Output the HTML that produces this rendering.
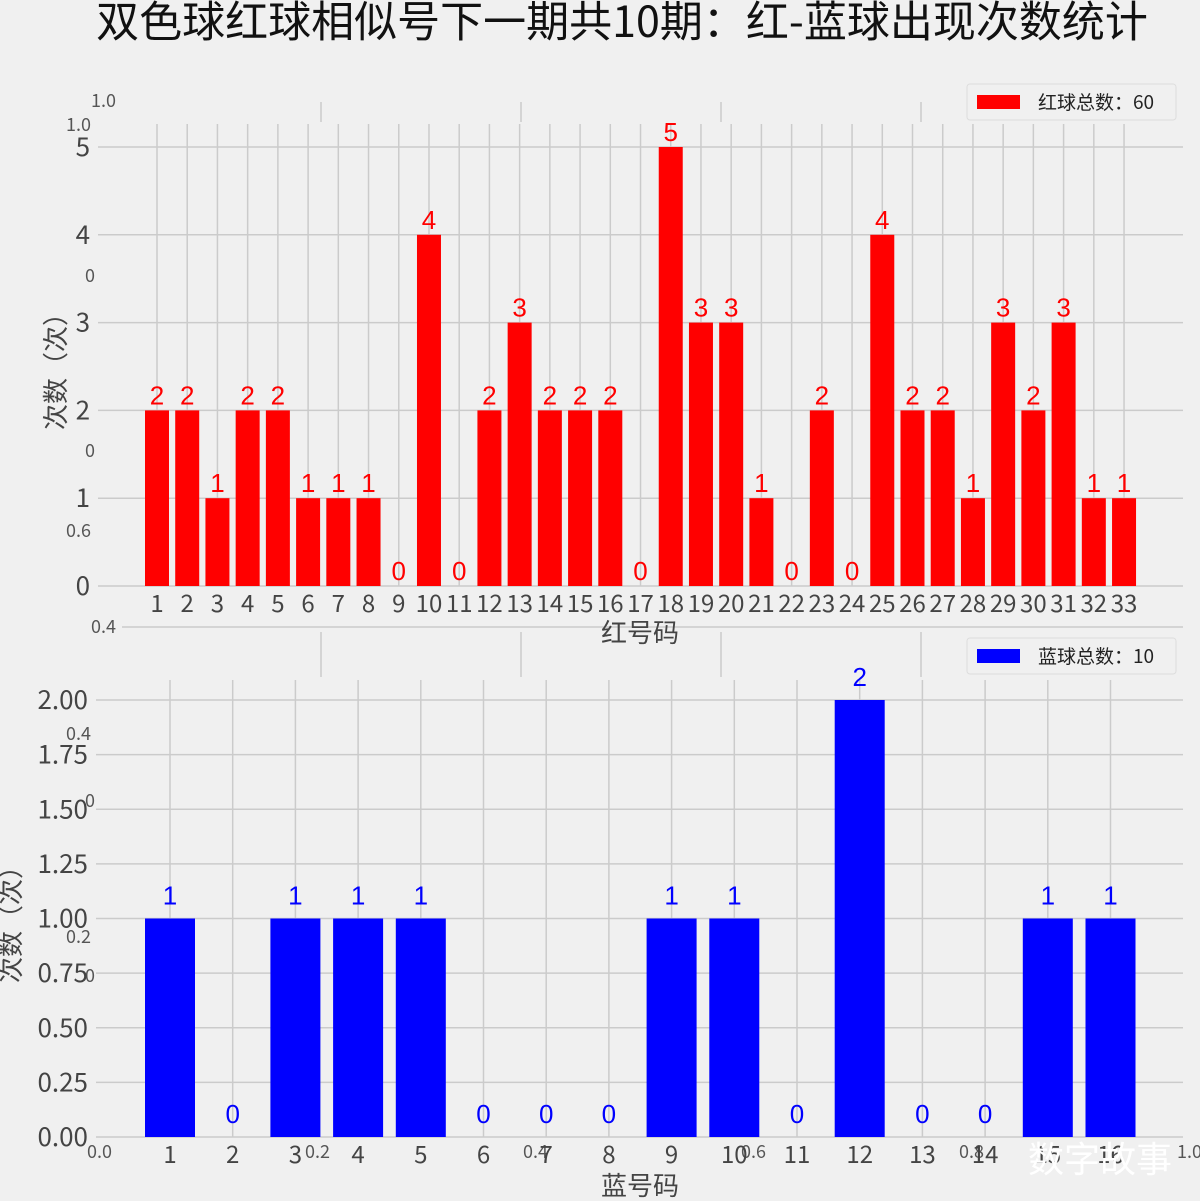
<!DOCTYPE html>
<html><head><meta charset="utf-8"><style>
body{margin:0;background:#f0f0f0;}
svg{display:block;font-family:"Liberation Sans","Noto Sans CJK SC",sans-serif;}
</style></head><body>
<svg id="c" width="1200" height="1201" viewBox="0 0 1200 1201" xmlns="http://www.w3.org/2000/svg">
<rect width="1200" height="1201" fill="#f0f0f0"/>
<text x="622" y="37" font-size="43" text-anchor="middle" fill="#111" font-family="Noto Sans CJK SC, sans-serif">双色球红球相似号下一期共10期：红-蓝球出现次数统计</text>
<g id="ghost"></g>
<g id="top"></g>
<g id="bot"></g>
<g>
<rect x="967" y="84" width="209" height="36" rx="3" fill="#f0f0f0" stroke="#ddd"/>
<rect x="977" y="95" width="43" height="14" fill="#ff0000"/>
<text x="1038" y="109" font-size="19" fill="#222" font-family="Noto Sans CJK SC, sans-serif">红球总数：60</text>
</g>
<g>
<rect x="967" y="638" width="209" height="36" rx="3" fill="#f0f0f0" stroke="#ddd"/>
<rect x="977" y="649" width="43" height="14" fill="#0000ff"/>
<text x="1038" y="663" font-size="19" fill="#222" font-family="Noto Sans CJK SC, sans-serif">蓝球总数：10</text>
</g>
<text x="1100" y="1172" font-size="36" text-anchor="middle" fill="#ffffff" font-family="Noto Sans CJK SC, sans-serif">数字故事</text>
</svg>
<script>
const redCategories = ["1","2","3","4","5","6","7","8","9","10","11","12","13","14","15","16","17","18","19","20","21","22","23","24","25","26","27","28","29","30","31","32","33"];
const redValues = [2,2,1,2,2,1,1,1,0,4,0,2,3,2,2,2,0,5,3,3,1,0,2,0,4,2,2,1,3,2,3,1,1];
const redTicks = [0,1,2,3,4,5];
const blueCategories = ["1","2","3","4","5","6","7","8","9","10","11","12","13","14","15","16"];
const blueValues = [1,0,1,1,1,0,0,0,1,1,0,2,0,0,1,1];
const blueTicks = [0,0.25,0.5,0.75,1,1.25,1.5,1.75,2];
const blueTickLabels = ["0.00","0.25","0.50","0.75","1.00","1.25","1.50","1.75","2.00"];

const NS="http://www.w3.org/2000/svg";
function mk(parent,tag,attrs,text){const e=document.createElementNS(NS,tag);for(const k in attrs)e.setAttribute(k,attrs[k]);if(text!==undefined)e.textContent=text;parent.appendChild(e);return e;}

const g=document.getElementById('ghost');
[321,521,721,921].forEach(x=>{
  let l=mk(g,'line',{x1:x,x2:x,y1:102,y2:122,stroke:'#cbcbcb','stroke-width':1.5});
  
  
  l=mk(g,'line',{x1:x,x2:x,y1:632,y2:677,stroke:'#cbcbcb','stroke-width':1.5});
  
  
});
mk(g,'line',{x1:122,x2:1183,y1:627,y2:627,stroke:'#cbcbcb','stroke-width':1.5});
[["1.0",116,107],["1.0",91,131],["0",95,282],["0",95,457],["0.6",91,537],["0.4",116,633],["0.4",91,740],["0",95,807],["0.2",91,943],["0",95,982],["0.0",112,1158],["0.2",330,1158],["0.4",548,1158],["0.6",766,1158],["0.8",984,1158],["1.0",1202,1158]].forEach(d=>{
  const t=mk(g,'text',{x:d[1],y:d[2],'font-size':18,'text-anchor':'end',fill:'#555','font-family':'Noto Sans CJK SC, sans-serif'},d[0]);
  
  
});

function chart(gid,cats,vals,ticks,tickLabels,o){
  const G=document.getElementById(gid);
  const x=i=>o.x0+i*o.step;
  const y=v=>o.y0-v*o.unit;
  ticks.forEach((t,i)=>{
    const l=mk(G,'line',{x1:o.left,x2:1183,y1:y(t),y2:y(t),stroke:'#cbcbcb','stroke-width':1.5});
    
    
    const tx=mk(G,'text',{x:o.left-8,y:y(t)+9,'font-size':26,'text-anchor':'end',fill:'#444','font-family':'Noto Sans CJK SC, sans-serif'},tickLabels[i]);
    
    
  });
  cats.forEach((c,i)=>{
    const l=mk(G,'line',{x1:x(i),x2:x(i),y1:o.top,y2:o.y0,stroke:'#cbcbcb','stroke-width':1.5});
    
    
  });
  cats.forEach((c,i)=>{
    const v=vals[i];
    const r=mk(G,'rect',{x:x(i)-o.bw/2,y:y(v),width:o.bw,height:y(0)-y(v),fill:o.color});
    
    
    const t=mk(G,'text',{x:x(i),y:y(v)-o.lab,'font-size':o.vfs,'text-anchor':'middle',fill:o.color},String(v));
    
    
    const xt=mk(G,'text',{x:x(i),y:o.y0+26,'font-size':24,'text-anchor':'middle',fill:'#444','font-family':'Noto Sans CJK SC, sans-serif'},c);
    
    
  });
  const xl=mk(G,'text',{x:640,y:o.y0+o.xlab,'font-size':26,'text-anchor':'middle',fill:'#444','font-family':'Noto Sans CJK SC, sans-serif'},o.xtitle);
  
  
  const yl=mk(G,'text',{x:0,y:0,'font-size':26,'text-anchor':'middle',fill:'#444','font-family':'Noto Sans CJK SC, sans-serif',transform:`translate(${o.ytx},${o.yty}) rotate(-90)`},'次数（次）');
  
  
}
chart('top',redCategories,redValues,redTicks,redTicks.map(String),{x0:157,step:30.22,y0:586,unit:87.8,top:124,left:98,bw:24,color:'#ff0000',lab:6,vfs:26,xtitle:'红号码',xlab:56,ytx:65,yty:365});
chart('bot',blueCategories,blueValues,blueTicks,blueTickLabels,{x0:170,step:62.7,y0:1137,unit:218.5,top:680,left:96,bw:50,color:'#0000ff',lab:14,vfs:26,xtitle:'蓝号码',xlab:58,ytx:20,yty:918});
</script>
</body></html>
